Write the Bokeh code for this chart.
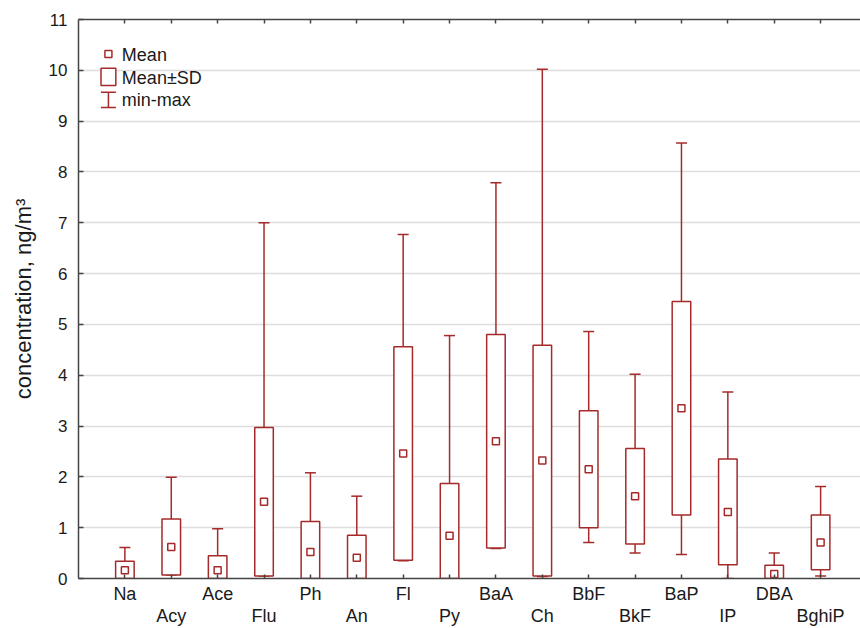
from bokeh.plotting import figure
from bokeh.models import FixedTicker, LinearAxis, Range1d
from bokeh.core.properties import value
from bokeh.embed import file_html
from bokeh.resources import INLINE

# ---- data ----
compounds = ["Na", "Acy", "Ace", "Flu", "Ph", "An", "Fl", "Py",
             "BaA", "Ch", "BbF", "BkF", "BaP", "IP", "DBA", "BghiP"]
means = [0.16, 0.62, 0.16, 1.51, 0.52, 0.41, 2.46, 0.84,
         2.70, 2.32, 2.15, 1.62, 3.35, 1.31, 0.09, 0.71]
sds = [0.18, 0.55, 0.29, 1.46, 0.60, 0.44, 2.10, 1.03,
       2.10, 2.27, 1.15, 0.94, 2.10, 1.04, 0.17, 0.54]
mins = [0.00, 0.07, 0.00, 0.05, 0.00, 0.00, 0.35, 0.00,
        0.59, 0.04, 0.71, 0.50, 0.47, 0.00, 0.00, 0.05]
maxs = [0.61, 1.99, 0.98, 7.00, 2.08, 1.62, 6.77, 4.78,
        7.79, 10.02, 4.86, 4.02, 8.57, 3.67, 0.50, 1.81]
y_ticks = list(range(0, 12))
legend_labels = ["Mean", "Mean\u00b1SD", "min-max"]

# ---- styling / layout constants ----
RED = "#A52A2A"
AXIS = "#444444"
TXT = "#1a1a1a"
FONT = "Liberation Sans"

positions = list(range(1, len(compounds) + 1))
lower = [m - s for m, s in zip(means, sds)]
upper = [m + s for m, s in zip(means, sds)]

p = figure(width=860, height=628,
           x_range=Range1d(0, 16.86), y_range=Range1d(0, 11),
           output_backend="svg", toolbar_location=None,
           min_border_left=78, min_border_right=0,
           min_border_top=19, min_border_bottom=50)
p.outline_line_color = None
p.background_fill_color = "white"
p.border_fill_color = "white"

# grid
p.xgrid.visible = False
p.ygrid.ticker = FixedTicker(ticks=y_ticks)
p.ygrid.grid_line_color = "#dddddd"
p.ygrid.grid_line_width = 1.5

# y axis
ya = p.yaxis[0]
ya.ticker = FixedTicker(ticks=y_ticks)
ya.axis_label = "concentration, ng/m\u00b3"
ya.axis_label_text_font = FONT
ya.axis_label_text_font_size = "22px"
ya.axis_label_text_font_style = "normal"
ya.axis_label_text_color = TXT
ya.axis_label_standoff = 10
ya.major_label_text_font = FONT
ya.major_label_text_font_size = "17px"
ya.major_label_text_color = TXT
ya.major_label_standoff = 11
ya.major_tick_in = 5
ya.major_tick_out = 0
ya.major_tick_line_color = AXIS
ya.major_tick_line_width = 1.5
ya.minor_tick_line_color = None
ya.axis_line_color = AXIS
ya.axis_line_width = 1.5

# x axis with staggered labels
xa = p.xaxis[0]
xa.ticker = FixedTicker(ticks=positions)
xa.major_label_overrides = {
    pos: (name if i % 2 == 0 else "\n" + name)
    for i, (pos, name) in enumerate(zip(positions, compounds))
}
xa.major_label_text_font = FONT
xa.major_label_text_font_size = "18px"
xa.major_label_text_line_height = 1.11
xa.major_label_text_color = TXT
xa.major_label_standoff = 5
xa.major_tick_in = 4
xa.major_tick_out = 0
xa.major_tick_line_color = AXIS
xa.major_tick_line_width = 1.5
xa.minor_tick_line_color = None
xa.axis_line_color = AXIS
xa.axis_line_width = 1.5

# top axis: ticks only (labels not drawn)
top = LinearAxis(ticker=FixedTicker(ticks=positions))
top.major_label_text_font_size = "1px"
top.major_label_text_color = None
top.major_label_standoff = 0
top.major_tick_in = 4
top.major_tick_out = 0
top.major_tick_line_color = AXIS
top.major_tick_line_width = 1.5
top.minor_tick_line_color = None
top.axis_line_color = AXIS
top.axis_line_width = 1.5
p.add_layout(top, "above")

# whiskers (min-max)
p.segment(x0=positions, y0=mins, x1=positions, y1=maxs,
          line_color=RED, line_width=1.5)
p.scatter(positions, maxs, marker="dash", size=11,
          line_color=RED, line_width=1.5)
p.scatter(positions, mins, marker="dash", size=11,
          line_color=RED, line_width=1.5)

# boxes (mean ± SD)
p.vbar(x=positions, width=0.4, bottom=lower, top=upper,
       fill_color="white", line_color=RED, line_width=1.5)

# means
p.scatter(positions, means, marker="square", size=7,
          fill_color="white", line_color=RED, line_width=1.5)

# ---- legend (upper left, drawn as keys + texts) ----
LEG_X = 0.645
LEG_HALF = 0.16
LEG_TX = 0.935
p.scatter([LEG_X], [10.32], marker="square", size=7,
          fill_color="white", line_color=RED, line_width=1.5)
p.quad(left=[LEG_X - LEG_HALF], right=[LEG_X + LEG_HALF],
       bottom=[9.70], top=[10.04],
       fill_color="white", line_color=RED, line_width=1.5)
p.segment(x0=[LEG_X], y0=[9.27], x1=[LEG_X], y1=[9.57],
          line_color=RED, line_width=1.5)
p.scatter([LEG_X, LEG_X], [9.27, 9.57], marker="dash", size=15,
          line_color=RED, line_width=1.5)
p.text(x=[LEG_TX] * 3, y=[10.30, 9.85, 9.41], text=legend_labels,
       text_font=value(FONT), text_font_size="18px",
       text_color=TXT, text_baseline="middle", text_align="left")

open("out.html", "w").write(file_html(p, INLINE))
